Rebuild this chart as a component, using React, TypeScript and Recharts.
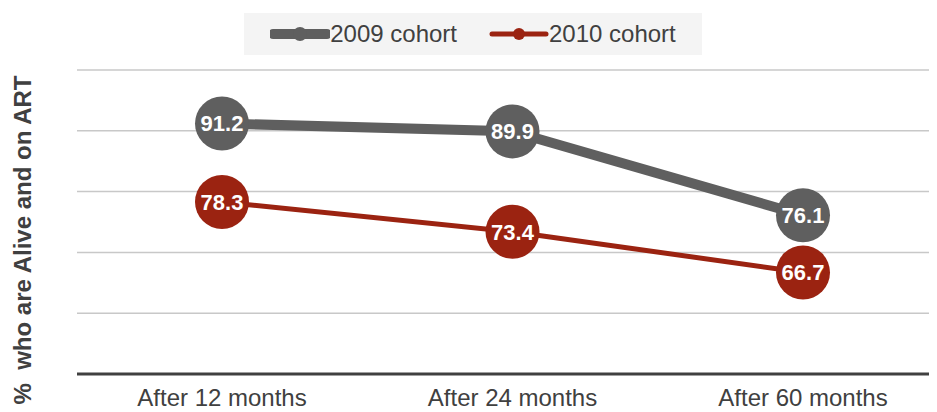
import React from 'react';
import { LineChart, Line, XAxis, YAxis, CartesianGrid, LabelList } from 'recharts';

const categories = ['After 12 months', 'After 24 months', 'After 60 months'];
const cohort2009 = [91.2, 89.9, 76.1];
const cohort2010 = [78.3, 73.4, 66.7];
const yTicks = [50, 60, 70, 80, 90, 100];

const GREY = '#5f5f5f';
const RED = '#9b2311';
const FONT = '"Liberation Sans", Arial, sans-serif';

const data = categories.map((c, i) => ({ name: c, c2009: cohort2009[i], c2010: cohort2010[i] }));

const BigDot = (color: string) => (props: any) => {
  const { cx, cy, index } = props;
  if (cx == null || cy == null) return null;
  return <circle key={`d-${index}`} cx={cx} cy={cy} r={27} fill={color} />;
};

const legendItems = [
  { label: '2009 cohort', color: GREY, w: 10, r: 7 },
  { label: '2010 cohort', color: RED, w: 5, r: 6 },
];

const LegendBox = () => (
  <div
    style={{
      position: 'absolute',
      top: 13,
      left: 244,
      width: 458,
      height: 42,
      background: '#f4f4f4',
      display: 'flex',
      alignItems: 'center',
      justifyContent: 'center',
      fontFamily: FONT,
      fontSize: 24,
      color: '#404040',
      zIndex: 2,
    }}
  >
    {legendItems.map((it, i) => (
      <div key={it.label} style={{ display: 'flex', alignItems: 'center', marginLeft: i ? 32 : 0 }}>
        <svg width={60} height={20}>
          <line x1={3} y1={10} x2={57} y2={10} stroke={it.color} strokeWidth={it.w} strokeLinecap="round" />
          <circle cx={30} cy={10} r={it.r} fill={it.color} />
        </svg>
        <span>{it.label}</span>
      </div>
    ))}
  </div>
);

const YTitle = () => (
  <text
    x={22}
    y={240}
    transform="rotate(-90 22 240)"
    textAnchor="middle"
    dominantBaseline="central"
    fontFamily={FONT}
    fontSize={24}
    fontWeight="bold"
    fill="#404040"
    style={{ whiteSpace: 'pre' }}
  >
    {'%  who are Alive and on ART'}
  </text>
);

export default function App() {
  return (
    <div style={{ position: 'relative', marginLeft: -8, marginTop: -8, width: 937, height: 412 }}>
      <LegendBox />
      <LineChart width={937} height={412} data={data} margin={{ top: 70, right: 0, bottom: 0, left: 0 }}>
        <CartesianGrid vertical={false} stroke="#c8c8c8" strokeWidth={1.5} />
        <XAxis
          dataKey="name"
          padding={{ left: 145, right: 134 }}
          axisLine={{ stroke: '#404040', strokeWidth: 3 }}
          tickLine={false}
          tickSize={0}
          tickMargin={15}
          height={38}
          tick={{ fontFamily: FONT, fontSize: 24, fill: '#404040' }}
        />
        <YAxis
          domain={[50, 100]}
          ticks={yTicks}
          width={77}
          tick={() => <g />}
          axisLine={false}
          tickLine={false}
          label={<YTitle />}
        />
        <Line
          dataKey="c2009"
          stroke={GREY}
          strokeWidth={10}
          dot={BigDot(GREY)}
          activeDot={false}
          isAnimationActive={false}
        >
          <LabelList
            dataKey="c2009"
            position="center"
            fill="#ffffff"
            fontFamily={FONT}
            fontSize={22}
            fontWeight="bold"
          />
        </Line>
        <Line
          dataKey="c2010"
          stroke={RED}
          strokeWidth={5}
          dot={BigDot(RED)}
          activeDot={false}
          isAnimationActive={false}
        >
          <LabelList
            dataKey="c2010"
            position="center"
            fill="#ffffff"
            fontFamily={FONT}
            fontSize={22}
            fontWeight="bold"
          />
        </Line>
      </LineChart>
    </div>
  );
}
